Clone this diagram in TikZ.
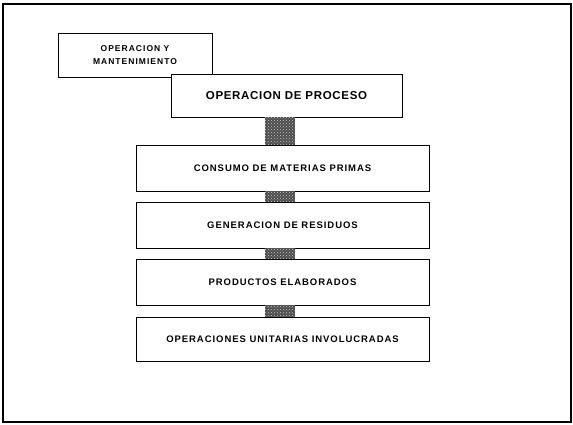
\documentclass[tikz,border=0pt]{standalone}
\usepackage{fontspec}
\setmainfont{Liberation Sans}
\newfontfamily\labfont[LetterSpace=10]{Liberation Sans}
\newfontfamily\titfont[LetterSpace=6]{Liberation Sans}
\newfontfamily\smallfont[LetterSpace=12]{Liberation Sans}
\usetikzlibrary{patterns}
\begin{document}
\begin{tikzpicture}[x=1pt,y=-1pt,
  box/.style={draw=black,line width=0.9pt,fill=white,inner sep=0pt,minimum width=293pt,minimum height=46pt,font=\labfont\bfseries\fontsize{9.5}{11}\selectfont},
  linkfill/.style={fill=black!70},
  linkdots/.style={pattern=crosshatch dots,pattern color=white!80!black}]
\useasboundingbox (0,0) rectangle (573,425);
\draw[line width=1.4pt] (3,4) rectangle (571,422);
\node[box,minimum width=154pt,minimum height=44pt,align=center,font=\smallfont\bfseries\fontsize{8.5}{13}\selectfont] (b1) at (135,55) {OPERACION Y\\MANTENIMIENTO};
\node[box,minimum width=231pt,minimum height=43pt,font=\titfont\bfseries\fontsize{11.5}{13}\selectfont] (b2) at (286.5,95.5) {OPERACION DE PROCESO};
\node[box] (b3) at (282.5,168) {CONSUMO DE MATERIAS PRIMAS};
\node[box] (b4) at (282.5,225) {GENERACION DE RESIDUOS};
\node[box] (b5) at (282.5,282) {PRODUCTOS ELABORADOS};
\node[box,minimum height=44pt] (b6) at (282.5,339) {OPERACIONES UNITARIAS INVOLUCRADAS};
\coordinate (cl) at (265,0);
\coordinate (cr) at (295,0);
\foreach \a/\b in {b2/b3,b3/b4,b4/b5,b5/b6}{
  \fill[linkfill] (\a.south -| cl) rectangle (\b.north -| cr);
  \fill[linkdots] (\a.south -| cl) rectangle (\b.north -| cr);
}
\end{tikzpicture}
\end{document}
